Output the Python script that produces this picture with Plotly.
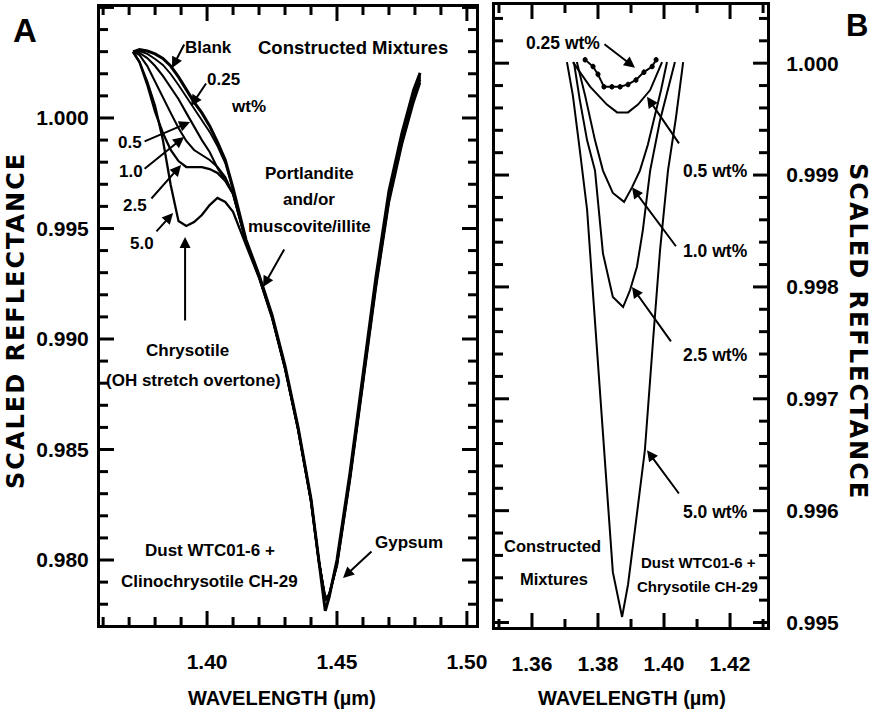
import plotly.graph_objects as go

# ---------------- Panel A data ----------------
wl_a = [1.3715, 1.374, 1.377, 1.380, 1.383, 1.386, 1.389, 1.392, 1.395, 1.398,
        1.401, 1.404, 1.407, 1.410, 1.415, 1.420, 1.425, 1.430, 1.435, 1.440,
        1.443, 1.4455, 1.447, 1.450, 1.455, 1.460, 1.465, 1.470, 1.475, 1.4795, 1.482]

refl_blank = [1.00299, 1.00310, 1.00303, 1.00290, 1.00269, 1.00235, 1.00186, 1.00127, 1.00072, 1.00023,
              0.99964, 0.99891, 0.99810, 0.99683, 0.99448, 0.99290, 0.99109, 0.98878, 0.98602, 0.98276,
              0.98004, 0.97770, 0.97833, 0.98000, 0.98394, 0.98837, 0.99281, 0.99670, 0.99932, 1.00127, 1.00204]
refl_025 = [1.00299, 1.00303, 1.00290, 1.00267, 1.00240, 1.00199, 1.00149, 1.00095, 1.00041, 0.99991,
            0.99937, 0.99873, 0.99796, 0.99674, 0.99445, 0.99287, 0.99106, 0.98875, 0.98600, 0.98274,
            0.98002, 0.97815, 0.97835, 0.97995, 0.98388, 0.98830, 0.99272, 0.99660, 0.99922, 1.00115, 1.00196]
refl_05 = [1.00299, 1.00294, 1.00271, 1.00235, 1.00190, 1.00140, 1.00086, 1.00023, 0.99959, 0.99900,
           0.99846, 0.99774, 0.99719, 0.99656, 0.99442, 0.99284, 0.99103, 0.98872, 0.98598, 0.98272,
           0.98000, 0.97820, 0.97837, 0.97990, 0.98382, 0.98823, 0.99263, 0.99650, 0.99912, 1.00105, 1.00188]
refl_10 = [1.00299, 1.00285, 1.00235, 1.00163, 1.00095, 1.00023, 0.99955, 0.99896, 0.99855, 0.99833,
           0.99810, 0.99778, 0.99733, 0.99656, 0.99440, 0.99282, 0.99101, 0.98870, 0.98596, 0.98270,
           0.97998, 0.97822, 0.97840, 0.97985, 0.98376, 0.98816, 0.99254, 0.99640, 0.99902, 1.00095, 1.00180]
refl_25 = [1.00299, 1.00253, 1.00149, 1.00027, 0.99932, 0.99855, 0.99805, 0.99778, 0.99778, 0.99778,
           0.99769, 0.99751, 0.99715, 0.99656, 0.99438, 0.99280, 0.99099, 0.98868, 0.98594, 0.98268,
           0.97996, 0.97825, 0.97842, 0.97980, 0.98370, 0.98808, 0.99245, 0.99630, 0.99892, 1.00085, 1.00172]
refl_50 = [1.00299, 1.00253, 1.00163, 1.00054, 0.99900, 0.99697, 0.99534, 0.99511, 0.99529, 0.99561,
           0.99606, 0.99638, 0.99620, 0.99575, 0.99425, 0.99277, 0.99096, 0.98865, 0.98591, 0.98265,
           0.97994, 0.97828, 0.97845, 0.97975, 0.98362, 0.98798, 0.99233, 0.99618, 0.99880, 1.00072, 1.00160]

# ---------------- Panel B data ----------------
wl_b025 = [1.3761, 1.3785, 1.3800, 1.3818, 1.3842, 1.3867, 1.3891, 1.3915, 1.3939, 1.3964, 1.3976]
refl_b025 = [1.00003, 0.99997, 0.99990, 0.99979, 0.99979, 0.99979, 0.99981, 0.99985, 0.99992, 0.99997, 1.00003]

wl_b05 = [1.3724, 1.3776, 1.3827, 1.3858, 1.3891, 1.3921, 1.3958, 1.3994]
refl_b05 = [1.00001, 0.99979, 0.99963, 0.99956, 0.99956, 0.99963, 0.99976, 1.00001]

wl_b10 = [1.3736, 1.3761, 1.3791, 1.3815, 1.3845, 1.3879, 1.3903, 1.3927, 1.3951, 1.3973, 1.3991, 1.4009]
refl_b10 = [1.00001, 0.99971, 0.99931, 0.99904, 0.99884, 0.99876, 0.99889, 0.99904, 0.99927, 0.99954, 0.99976, 1.00001]

wl_b25 = [1.3727, 1.3745, 1.3767, 1.3791, 1.3815, 1.3845, 1.3876, 1.3897, 1.3918, 1.3936, 1.3958, 1.3988, 1.4033]
refl_b25 = [1.00001, 0.99967, 0.99931, 0.99904, 0.99830, 0.99791, 0.99782, 0.99797, 0.99818, 0.99851, 0.99904, 0.99949, 1.00001]

wl_b50 = [1.3706, 1.3724, 1.3745, 1.3767, 1.3782, 1.3797, 1.3821, 1.3845, 1.3873,
          1.3891, 1.3912, 1.3942, 1.3967, 1.3988, 1.4012, 1.4036, 1.4058]
refl_b50 = [1.00001, 0.99971, 0.99922, 0.99869, 0.99806, 0.99744, 0.99645, 0.99545, 0.99505,
            0.99534, 0.99583, 0.99654, 0.99753, 0.99833, 0.99904, 0.99951, 1.00001]

# ---------------- Axis ticks (start, major step, minor step) ----------------
A_XTICK = (1.40, 0.05, 0.01)
A_YTICK = (1.000, 0.005, 0.001)
B_XTICK = (1.36, 0.02, 0.01)
B_YTICK = (1.000, 0.001, 0.0002)

A_XR = [1.3588, 1.5035]
A_YR = [0.97706, 1.00502]
B_XR = [1.3488, 1.4312]
B_YR = [0.99496, 1.00052]

A_XDOM = [0.1143, 0.5440]
A_YDOM = [0.1271, 0.9902]
B_XDOM = [0.5657, 0.8766]
B_YDOM = [0.1243, 0.9930]

W, H = 875, 716
NARROW = "Liberation Sans, Arial, sans-serif"
WIDE = "DejaVu Sans, Verdana, sans-serif"
BLK = "black"

fig = go.Figure()

def add_line(x, y, xa, ya, w=2.0):
    fig.add_trace(go.Scatter(x=x, y=y, mode="lines", xaxis=xa, yaxis=ya,
                             line=dict(color=BLK, width=w), showlegend=False,
                             hoverinfo="skip"))

for arr, w in [(refl_50, 2.3), (refl_25, 2.3), (refl_10, 2.1), (refl_05, 2.1),
               (refl_025, 1.9), (refl_blank, 3.0)]:
    add_line(wl_a, arr, "x", "y", w)

add_line(wl_b05, refl_b05, "x2", "y2", 2)
add_line(wl_b10, refl_b10, "x2", "y2", 2)
add_line(wl_b25, refl_b25, "x2", "y2", 2)
add_line(wl_b50, refl_b50, "x2", "y2", 2)
fig.add_trace(go.Scatter(x=wl_b025, y=refl_b025, mode="lines+markers", xaxis="x2", yaxis="y2",
                         line=dict(color=BLK, width=2), marker=dict(color=BLK, size=5),
                         error_y=dict(type="constant", value=0.000025, width=0, thickness=1.5, color=BLK),
                         showlegend=False, hoverinfo="skip"))

# ---- inward tick marks on all four sides of each panel, as a line trace on each panel's axes ----
def tick_positions(rng, t0, step):
    import math
    n0 = math.ceil((rng[0] - t0) / step - 1e-9)
    n1 = math.floor((rng[1] - t0) / step + 1e-9)
    return [round(t0 + k * step, 6) for k in range(n0, n1 + 1)]

def add_tick_trace(xa, ya, xr, yr, xdom, ydom, xtk, ytk, major_len=14, minor_len=8):
    dx = (xr[1] - xr[0]) / ((xdom[1] - xdom[0]) * W)   # data units per pixel
    dy = (yr[1] - yr[0]) / ((ydom[1] - ydom[0]) * H)
    xs, ys = [], []
    majors_x = tick_positions(xr, xtk[0], xtk[1])
    for v in tick_positions(xr, xtk[0], xtk[2]):
        L = major_len if any(abs(v - m) < 1e-9 for m in majors_x) else minor_len
        xs += [v, v, None, v, v, None]
        ys += [yr[0], yr[0] + L * dy, None, yr[1], yr[1] - L * dy, None]
    majors_y = tick_positions(yr, ytk[0], ytk[1])
    for v in tick_positions(yr, ytk[0], ytk[2]):
        L = major_len if any(abs(v - m) < 1e-12 for m in majors_y) else minor_len
        xs += [xr[0], xr[0] + L * dx, None, xr[1], xr[1] - L * dx, None]
        ys += [v, v, None, v, v, None]
    fig.add_trace(go.Scatter(x=xs, y=ys, mode="lines", xaxis=xa, yaxis=ya,
                             line=dict(color=BLK, width=3), showlegend=False,
                             hoverinfo="skip", cliponaxis=False))

add_tick_trace("x", "y", A_XR, A_YR, A_XDOM, A_YDOM, A_XTICK, A_YTICK)
add_tick_trace("x2", "y2", B_XR, B_YR, B_XDOM, B_YDOM, B_XTICK, B_YTICK)

tickfont = dict(family=NARROW, size=21, color=BLK, weight="bold")

def axis_main(domain, rng, tk, fmt, anchor, standoff, side):
    t0, dt, _ = tk
    return dict(showgrid=False, zeroline=False, showline=True, linecolor=BLK, linewidth=3,
                mirror=True, ticks="inside", ticklen=11, tickwidth=2, tickcolor=BLK,
                layer="above traces", tickfont=tickfont, domain=domain, range=rng,
                tickmode="linear", tick0=t0, dtick=dt, tickformat=fmt, anchor=anchor,
                ticklabelstandoff=standoff, automargin=False, side=side)

axes = {}
axes["xaxis"] = axis_main(A_XDOM, A_XR, A_XTICK, ".2f", "y", 16, "bottom")
axes["yaxis"] = axis_main(A_YDOM, A_YR, A_YTICK, ".3f", "x", 4, "left")
axes["xaxis2"] = axis_main(B_XDOM, B_XR, B_XTICK, ".2f", "y2", 16, "bottom")
axes["yaxis2"] = axis_main(B_YDOM, B_YR, B_YTICK, ".3f", "x2", 12, "right")

ann = []

def txt(x, y, s, size=17, xref="x", yref="y", family=NARROW, angle=0):
    ann.append(dict(x=x, y=y, xref=xref, yref=yref, text=s, showarrow=False,
                    font=dict(family=family, size=size, color=BLK, weight="bold"),
                    xanchor="center", yanchor="middle", textangle=angle))

def arrow(x0, y0, x1, y1, xref="x", yref="y"):
    ann.append(dict(x=x1, y=y1, ax=x0, ay=y0, xref=xref, yref=yref, axref=xref, ayref=yref,
                    text="", showarrow=True, arrowhead=2, arrowsize=1.1, arrowwidth=2,
                    arrowcolor=BLK, standoff=0, startstandoff=0))

# Panel A labels
txt(1.4004, 1.00321, "Blank", 17)
arrow(1.3915, 1.00339, 1.3865, 1.00226)
txt(1.4562, 1.00317, "Constructed Mixtures", 18.5)
txt(1.4062, 1.00176, "0.25", 17)
txt(1.4158, 1.00054, "wt%", 17)
arrow(1.4000, 1.00163, 1.3938, 1.00054)
txt(1.37038, 0.99891, "0.5", 17)
arrow(1.37538, 0.99891, 1.39346, 0.99982)
txt(1.37077, 0.99760, "1.0", 17)
arrow(1.37538, 0.99765, 1.39115, 0.99914)
txt(1.37231, 0.99606, "2.5", 17)
arrow(1.37808, 0.99629, 1.39000, 0.99787)
txt(1.37500, 0.99434, "5.0", 17)
arrow(1.38000, 0.99480, 1.38692, 0.99570)
arrow(1.39154, 0.99077, 1.39154, 0.99462)
txt(1.39231, 0.98946, "Chrysotile", 17)
txt(1.39462, 0.98810, "(OH stretch overtone)", 17)
txt(1.43923, 0.99747, "Portlandite", 17)
txt(1.43923, 0.99633, "and/or", 17)
txt(1.43923, 0.99507, "muscovite/illite", 17)
arrow(1.43000, 0.99412, 1.42154, 0.99235)
txt(1.47769, 0.98077, "Gypsum", 17)
arrow(1.46385, 0.98045, 1.45231, 0.97919)
txt(1.40115, 0.98041, "Dust WTC01-6 +", 17)
txt(1.40077, 0.97905, "Clinochrysotile CH-29", 17)

# Panel B labels
txt(1.36939, 1.00018, "0.25 wt%", 17.5, "x2", "y2")
arrow(1.38151, 1.00018, 1.39121, 0.99996, "x2", "y2")
txt(1.41545, 0.99904, "0.5 wt%", 17.5, "x2", "y2")
arrow(1.40484, 0.99927, 1.39485, 0.99970, "x2", "y2")
txt(1.41545, 0.99832, "1.0 wt%", 17.5, "x2", "y2")
arrow(1.40394, 0.99835, 1.39030, 0.99889, "x2", "y2")
txt(1.41545, 0.99739, "2.5 wt%", 17.5, "x2", "y2")
arrow(1.40242, 0.99750, 1.39030, 0.99800, "x2", "y2")
txt(1.41545, 0.99599, "5.0 wt%", 17.5, "x2", "y2")
arrow(1.40484, 0.99614, 1.39485, 0.99654, "x2", "y2")
txt(1.36636, 0.99568, "Constructed", 16.5, "x2", "y2")
txt(1.36667, 0.99539, "Mixtures", 16.5, "x2", "y2")
txt(1.41030, 0.99554, "Dust WTC01-6 +", 15, "x2", "y2")
txt(1.41000, 0.99532, "Chrysotile CH-29", 15, "x2", "y2")

# Axis titles and panel letters
txt(0.3223, 0.0250, "WAVELENGTH (µm)", 20, "paper", "paper")
txt(0.7223, 0.0250, "WAVELENGTH (µm)", 20, "paper", "paper")
title_txt = '<span style="letter-spacing:2px">SCALED REFLECTANCE</span>'
txt(0.0183, 0.5517, title_txt, 24, "paper", "paper", WIDE, -90)
txt(0.9806, 0.5377, title_txt, 24, "paper", "paper", WIDE, 90)
txt(0.0286, 0.958, "A", 33, "paper", "paper", NARROW)
txt(0.9794, 0.9637, "B", 31, "paper", "paper", NARROW)

fig.update_layout(template="none", width=W, height=H, autosize=False,
                  margin=dict(l=0, r=0, t=0, b=0, pad=0, autoexpand=False),
                  paper_bgcolor="white", plot_bgcolor="white",
                  annotations=ann, **axes)

fig.write_html("out.html")
